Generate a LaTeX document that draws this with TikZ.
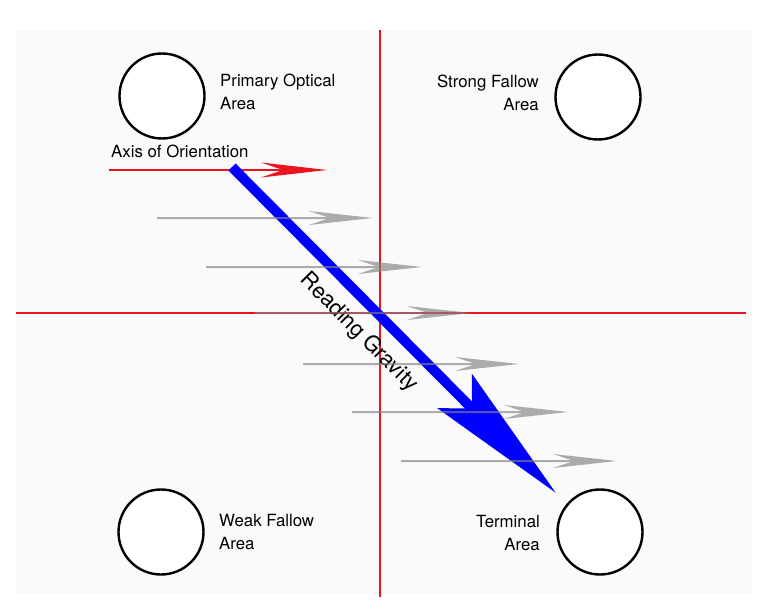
\documentclass[tikz,border=0pt]{standalone}
\usepackage{fontspec}
\setmainfont{TeX Gyre Heros}
\usepackage{xcolor}
\definecolor{axisred}{RGB}{235,20,30}
\definecolor{flowgray}{RGB}{130,130,130}
\definecolor{gravblue}{RGB}{0,0,255}
\definecolor{bggray}{RGB}{250,250,250}
\usetikzlibrary{arrows.meta, positioning}

\tikzset{
  area/.style={circle, draw=black, line width=2.4pt, fill=white, minimum size=85pt, inner sep=0pt},
  arealabel/.style={font=\fontsize{16.8}{23}\selectfont, inner sep=0pt},
  flowarrow/.style={draw=flowgray, line width=2pt, -{Stealth[length=64pt, width=14pt, inset=21pt]}},
}

\begin{document}
\begin{tikzpicture}[x=1pt, y=-1pt]
      % Background
      \useasboundingbox (0,0) rectangle (769,610);
      \fill[white] (0,0) rectangle (769,610);
      \fill[bggray] (16,30) rectangle (752,594);

      % Quadrant axes
      \draw[axisred, line width=1.4pt] (380,30) -- (380,597);
      \draw[axisred, line width=1.4pt] (16,313) -- (746,313);

      % Areas
      \node[area] (primary)  at (162,96)  {};
      \node[area] (strong)   at (598,97)  {};
      \node[area] (weak)     at (161,532) {};
      \node[area] (terminal) at (600,532) {};

      \node[arealabel, anchor=west, align=left]  (primarylbl)  at (220,91.5) {Primary Optical\\Area};
      \node[arealabel, anchor=east, align=right] (stronglbl)   at (539,92.5) {Strong Fallow\\Area};
      \node[arealabel, anchor=west, align=left]  (weaklbl)     at (219,532)  {Weak Fallow\\Area};
      \node[arealabel, anchor=east, align=right] (terminallbl) at (540,533)  {Terminal\\Area};

      % Axis of orientation
      \node[arealabel, anchor=west] (axislbl) at (111,151) {Axis of Orientation};
      \coordinate (axisstart) at (109,170);
      \coordinate (axisend)   at (327,170);
      \draw[axisred, line width=2.4pt, -{Stealth[length=66pt, width=15pt, inset=22pt]}] (axisstart) -- (axisend);

      % Reading gravity
      \coordinate (gravstart) at (232,167);
      \coordinate (gravend)   at (556,493);
      \draw[gravblue, line width=10pt, -{Stealth[length=143pt, width=48pt, inset=24pt]}] (gravstart) -- (gravend)
        node[pos=0.45, sloped, below=11pt, text=black, font=\fontsize{22}{25}\selectfont, inner sep=0pt] (gravlbl) {Reading Gravity};

      % Flow lines
      \foreach \x/\y [count=\i] in {157/218, 206/267, 255/313, 303/364, 352/412, 401/461} {
        \coordinate (flow\i s) at (\x,\y);
        \coordinate (flow\i e) at (\x+216,\y);
        \begin{scope}[transparency group, opacity=0.65]
          \draw[flowarrow] (flow\i s) -- (flow\i e);
        \end{scope}
      }
    \end{tikzpicture}
\end{document}
